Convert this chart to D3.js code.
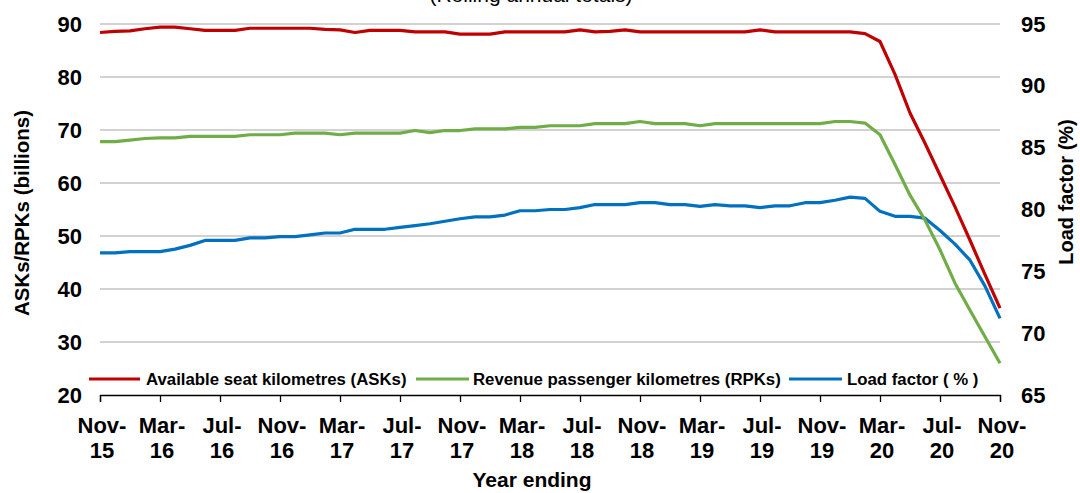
<!DOCTYPE html>
<html>
<head>
<meta charset="utf-8">
<script src="https://cdn.jsdelivr.net/npm/d3@7"></script>
<style>
  html, body { margin: 0; padding: 0; background: #ffffff; }
  svg { display: block; font-family: "Liberation Sans", Arial, sans-serif; }
</style>
</head>
<body>
<div id="chart"></div>
<script>
const WIDTH = 1080;
const HEIGHT = 493;

// monthly points, Nov-15 .. Nov-20 (61 months)
const tickLabels = [
  ["Nov-", "15"], ["Mar-", "16"], ["Jul-", "16"], ["Nov-", "16"],
  ["Mar-", "17"], ["Jul-", "17"], ["Nov-", "17"], ["Mar-", "18"],
  ["Jul-", "18"], ["Nov-", "18"], ["Mar-", "19"], ["Jul-", "19"],
  ["Nov-", "19"], ["Mar-", "20"], ["Jul-", "20"], ["Nov-", "20"]
];

const asks = [
  88.4, 88.6, 88.7, 89.1, 89.4, 89.4, 89.1, 88.8, 88.8, 88.8,
  89.2, 89.2, 89.2, 89.2, 89.2, 89.0, 88.9, 88.4, 88.8, 88.8,
  88.8, 88.5, 88.5, 88.5, 88.1, 88.1, 88.1, 88.5, 88.5, 88.5,
  88.5, 88.5, 88.9, 88.5, 88.6, 88.9, 88.5, 88.5, 88.5, 88.5,
  88.5, 88.5, 88.5, 88.5, 88.9, 88.5, 88.5, 88.5, 88.5, 88.5,
  88.5, 88.2, 86.7, 80.5, 73.2, 67.5, 61.5, 55.5, 49.2, 42.7,
  36.4
];

const rpks = [
  67.8, 67.8, 68.1, 68.4, 68.5, 68.5, 68.8, 68.8, 68.8, 68.8,
  69.1, 69.1, 69.1, 69.4, 69.4, 69.4, 69.1, 69.4, 69.4, 69.4,
  69.4, 69.9, 69.5, 69.9, 69.9, 70.2, 70.2, 70.2, 70.5, 70.5,
  70.8, 70.8, 70.8, 71.2, 71.2, 71.2, 71.6, 71.2, 71.2, 71.2,
  70.8, 71.2, 71.2, 71.2, 71.2, 71.2, 71.2, 71.2, 71.2, 71.6,
  71.6, 71.3, 69.1, 63.5, 57.7, 53.0, 47.4, 41.1, 36.0, 31.0,
  26.0
];

const loadFactor = [
  76.5, 76.5, 76.6, 76.6, 76.6, 76.8, 77.1, 77.5, 77.5, 77.5,
  77.7, 77.7, 77.8, 77.8, 77.95, 78.1, 78.1, 78.4, 78.4, 78.4,
  78.55, 78.7, 78.85, 79.05, 79.25, 79.4, 79.4, 79.55, 79.9, 79.9,
  80.0, 80.0, 80.15, 80.4, 80.4, 80.4, 80.55, 80.55, 80.4, 80.4,
  80.25, 80.4, 80.3, 80.3, 80.15, 80.3, 80.3, 80.55, 80.55, 80.75,
  81.0, 80.9, 79.85, 79.45, 79.45, 79.3, 78.3, 77.2, 75.9, 73.8,
  71.2
];

const leftTicks = [20, 30, 40, 50, 60, 70, 80, 90];
const rightTicks = [65, 70, 75, 80, 85, 90, 95];

const seriesNames = [
  "Available seat kilometres (ASKs)",
  "Revenue passenger kilometres (RPKs)",
  "Load factor ( % )"
];
const seriesColors = ["#c00000", "#70ad47", "#0070c0"];

const plot = { left: 100, right: 1000, top: 24, bottom: 395 };

const x = d3.scaleLinear().domain([0, asks.length - 1]).range([plot.left, plot.right]);
const yLeft = d3.scaleLinear().domain([20, 90]).range([plot.bottom, plot.top]);
const yRight = d3.scaleLinear().domain([65, 95]).range([plot.bottom, plot.top]);

const svg = d3.select("#chart")
  .append("svg")
  .attr("width", WIDTH)
  .attr("height", HEIGHT)
  .attr("viewBox", `0 0 ${WIDTH} ${HEIGHT}`);

// title, clipped by the top edge in the reference
svg.append("text")
  .attr("x", 531)
  .attr("y", 2)
  .attr("text-anchor", "middle")
  .attr("font-size", 21)
  .attr("fill", "#000")
  .text("(Rolling annual totals)");

// gridlines from the left axis
svg.append("g")
  .selectAll("line")
  .data(leftTicks.filter((t) => t > 20))
  .join("line")
  .attr("x1", plot.left)
  .attr("x2", plot.right)
  .attr("y1", (d) => yLeft(d))
  .attr("y2", (d) => yLeft(d))
  .attr("stroke", "#c3c3c3")
  .attr("stroke-width", 1.5);

// left axis labels
const leftAxis = d3.axisLeft(yLeft).tickValues(leftTicks).tickSize(0).tickPadding(18);
svg.append("g")
  .attr("transform", `translate(${plot.left},0)`)
  .call(leftAxis)
  .call((g) => g.select(".domain").remove())
  .call((g) => g.selectAll("text")
    .attr("font-family", "Liberation Sans, Arial, sans-serif")
    .attr("font-size", 22)
    .attr("font-weight", "bold")
    .attr("fill", "#000"));

// right axis labels
const rightAxis = d3.axisRight(yRight).tickValues(rightTicks).tickSize(0).tickPadding(21);
svg.append("g")
  .attr("transform", `translate(${plot.right},0)`)
  .call(rightAxis)
  .call((g) => g.select(".domain").remove())
  .call((g) => g.selectAll("text")
    .attr("font-family", "Liberation Sans, Arial, sans-serif")
    .attr("font-size", 22)
    .attr("font-weight", "bold")
    .attr("fill", "#000"));

// x axis
const tickIdx = tickLabels.map((_, i) => i * 4);
const bottomAxis = d3.axisBottom(x).tickValues(tickIdx).tickSize(7).tickFormat("");
const xAxisG = svg.append("g")
  .attr("transform", `translate(0,${plot.bottom})`)
  .call(bottomAxis);
xAxisG.select(".domain").attr("stroke", "#000").attr("stroke-width", 1.3);
xAxisG.selectAll(".tick line").attr("stroke", "#000").attr("stroke-width", 1.3);

const xLabels = svg.append("g")
  .selectAll("text")
  .data(tickLabels)
  .join("text")
  .attr("text-anchor", "middle")
  .attr("font-size", 22)
  .attr("font-weight", "bold")
  .attr("fill", "#000");
xLabels.append("tspan").attr("x", (d, i) => x(i * 4) + 2).attr("y", 433).text((d) => d[0]);
xLabels.append("tspan").attr("x", (d, i) => x(i * 4) + 2).attr("y", 458).text((d) => d[1]);

// axis titles
svg.append("text")
  .attr("transform", "translate(532,487)")
  .attr("text-anchor", "middle")
  .attr("font-size", 21)
  .attr("font-weight", "bold")
  .text("Year ending");

svg.append("text")
  .attr("transform", "translate(29,213) rotate(-90)")
  .attr("text-anchor", "middle")
  .attr("font-size", 20.5)
  .attr("font-weight", "bold")
  .text("ASKs/RPKs (billions)");

svg.append("text")
  .attr("transform", "translate(1073,192) rotate(-90)")
  .attr("text-anchor", "middle")
  .attr("font-size", 20)
  .attr("font-weight", "bold")
  .text("Load factor (%)");

// lines
const lineLeft = d3.line().x((d, i) => x(i)).y((d) => yLeft(d));
const lineRight = d3.line().x((d, i) => x(i)).y((d) => yRight(d));

svg.append("path")
  .datum(loadFactor)
  .attr("d", lineRight)
  .attr("fill", "none")
  .attr("stroke", seriesColors[2])
  .attr("stroke-width", 3.2)
  .attr("stroke-linejoin", "round");

svg.append("path")
  .datum(rpks)
  .attr("d", lineLeft)
  .attr("fill", "none")
  .attr("stroke", seriesColors[1])
  .attr("stroke-width", 3.2)
  .attr("stroke-linejoin", "round");

svg.append("path")
  .datum(asks)
  .attr("d", lineLeft)
  .attr("fill", "none")
  .attr("stroke", seriesColors[0])
  .attr("stroke-width", 3.2)
  .attr("stroke-linejoin", "round");

// legend
const legendItems = [
  { x1: 89, x2: 140, tx: 146 },
  { x1: 416, x2: 469, tx: 473 },
  { x1: 789, x2: 842, tx: 847 }
];
const legendY = 379;
const legend = svg.append("g");
legendItems.forEach((item, i) => {
  legend.append("line")
    .attr("x1", item.x1)
    .attr("x2", item.x2)
    .attr("y1", legendY)
    .attr("y2", legendY)
    .attr("stroke", seriesColors[i])
    .attr("stroke-width", 3.2);
  legend.append("text")
    .attr("x", item.tx)
    .attr("y", legendY + 6)
    .attr("font-size", 16.8)
    .attr("font-weight", "bold")
    .attr("fill", "#000")
    .text(seriesNames[i]);
});
</script>
</body>
</html>
